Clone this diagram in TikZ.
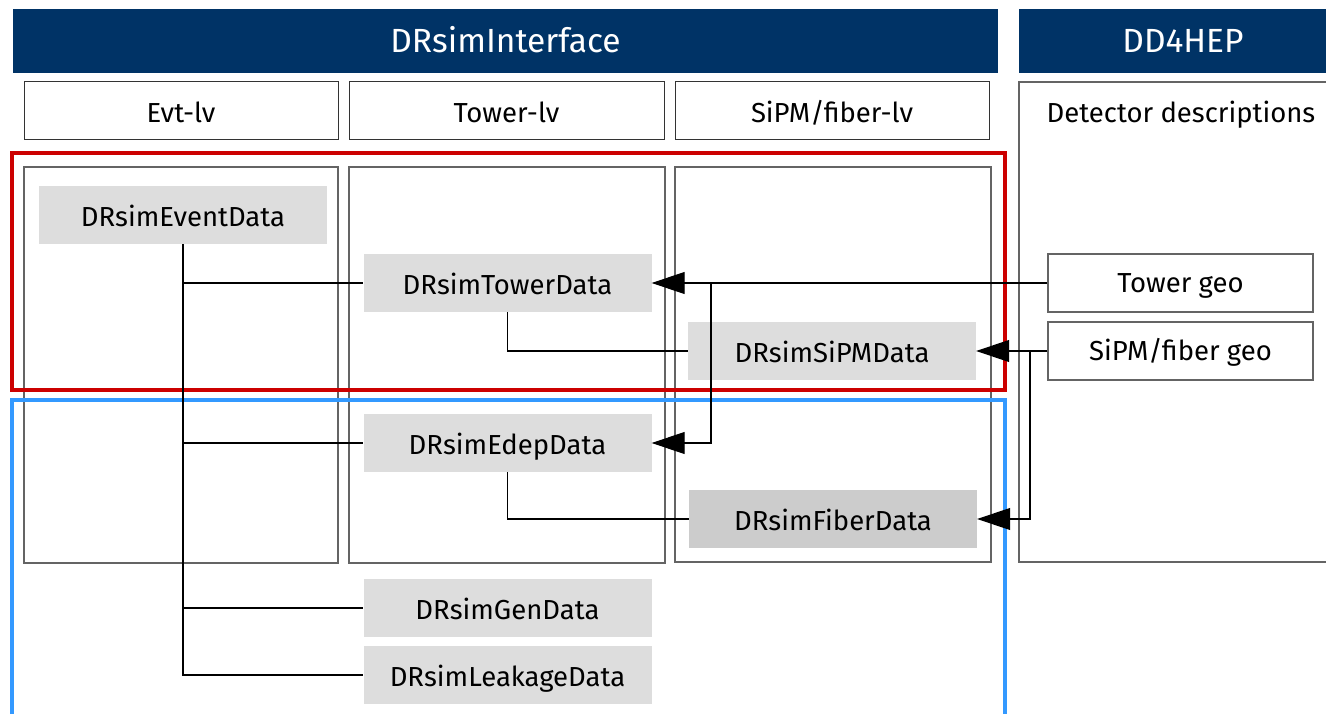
\documentclass[tikz,border=0pt]{standalone}
\usepackage{fontspec}
\setmainfont{Fira Sans}
\usetikzlibrary{arrows.meta}
\definecolor{navy}{RGB}{0,51,102}
\definecolor{grpred}{RGB}{204,0,0}
\definecolor{grpblue}{RGB}{51,153,255}
\definecolor{datafill}{RGB}{221,221,221}
\definecolor{datafilldark}{RGB}{204,204,204}
\definecolor{colframe}{RGB}{100,100,100}
\tikzset{
  banner/.style={fill=navy, text=white, font=\fontsize{33.5}{40}\selectfont, inner sep=0pt, text height=24pt, text depth=0pt},
  label/.style={font=\fontsize{27.5}{33}\selectfont, inner sep=0pt, text height=23pt, text depth=0pt},
  header/.style={label, draw=black!80, line width=1pt, fill=white},
  column/.style={draw=colframe, line width=1.2pt},
  data/.style={label, fill=datafill, minimum width=288pt, minimum height=58pt},
  geo/.style={label, text height=19pt, draw=colframe, line width=1.2pt, fill=white, minimum width=265pt, minimum height=58pt},
  link/.style={draw=black, line width=1.1pt},
  feed/.style={draw=black, line width=1.1pt, -{Triangle[length=33pt,width=22pt]}},
  group/.style={line width=3.5pt}
}
\begin{document}
\begin{tikzpicture}[x=1pt,y=-1pt]
\useasboundingbox (0,0) rectangle (1326,714);
\fill[white] (0,0) rectangle (1326,714);

% title banners
\node[banner, minimum width=985pt, minimum height=64pt] (ifc) at (505.5,41) {DRsimInterface};
\node[banner, minimum width=320pt, minimum height=64pt, anchor=west] (dd) at (1019,41) {};
\node[banner, fill=none] (ddl) at (1183,41) {DD4HEP};

% level headers
\node[header, minimum width=314pt, minimum height=58pt] (hevt) at (181,111) {Evt-lv};
\node[header, minimum width=315pt, minimum height=58pt] (htow) at (506.5,111) {Tower-lv};
\node[header, minimum width=314pt, minimum height=58pt] (hsip) at (832,111) {SiPM/fiber-lv};

% detector description panel
\draw[column] (1330,82) -- (1019,82) -- (1019,562) -- (1330,562);
\node[label, text height=21pt] (hdet) at (1181,112) {Detector descriptions};

% column frames
\draw[column] (24,167) rectangle (338,563);
\draw[column] (349,167) rectangle (665,563);
\draw[column] (675,167) rectangle (991,562);

% grouping frames
\draw[group, draw=grpred] (12,153) rectangle (1005,390);
\draw[group, draw=grpblue] (12,730) -- (12,400) -- (1005,400) -- (1005,730);

% data nodes
\node[data] (ev) at (183,215) {DRsimEventData};
\node[data] (tw) at (507.5,283) {DRsimTowerData};
\node[data] (sp) at (832,351) {DRsimSiPMData};
\node[data] (ed) at (507.5,443) {DRsimEdepData};
\node[data, fill=datafilldark] (fb) at (833,519) {DRsimFiberData};
\node[data] (gn) at (507.5,608) {DRsimGenData};
\node[data] (lk) at (507.5,675) {DRsimLeakageData};

% geometry sources
\node[geo] (tg) at (1180.5,283) {Tower geo};
\node[geo] (sg) at (1180.5,351) {SiPM/fiber geo};

% event tree
\draw[link] (ev.south) -- (ev.south |- lk.west) -- (lk.west);
\draw[link] (ev.south |- tw.west) -- (tw.west);
\draw[link] (ev.south |- ed.west) -- (ed.west);
\draw[link] (ev.south |- gn.west) -- (gn.west);
\draw[link] (tw.south) |- (sp.west);
\draw[link] (ed.south) |- (fb.west);

% geometry feeds
\coordinate (tj) at (711,283);
\coordinate (sj) at (1030,351);
\draw[feed] (tg.west) -- (tw.east);
\draw[feed] (tj) |- (ed.east);
\draw[feed] (sg.west) -- (sp.east);
\draw[feed] (sj) |- (fb.east);
\end{tikzpicture}
\end{document}
